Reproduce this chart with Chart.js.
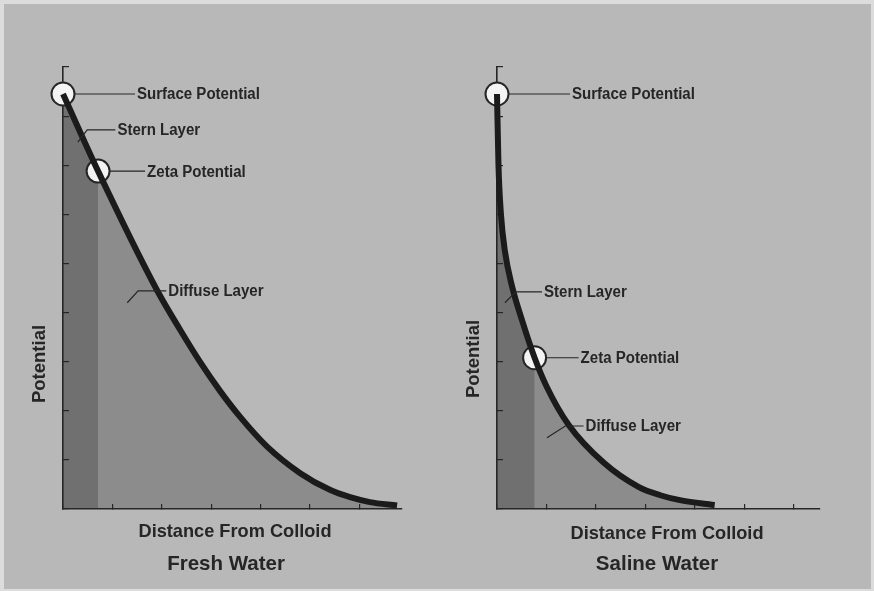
<!DOCTYPE html>
<html>
<head>
<meta charset="utf-8">
<script src="https://cdn.jsdelivr.net/npm/chart.js@4/dist/chart.umd.min.js"></script>
<style>
  html, body { margin: 0; padding: 0; width: 874px; height: 591px; overflow: hidden; background: #dcdcdc; }
  #panel { position: absolute; left: 4px; top: 4px; width: 867px; height: 585px; background: #b8b8b8; }
  .box { position: absolute; top: 0; width: 437px; height: 591px; }
</style>
</head>
<body>
<div id="panel"></div>
<div class="box" style="left:0"><canvas id="fresh"></canvas></div>
<div class="box" style="left:437px"><canvas id="saline"></canvas></div>
<script>
// Potential profile away from a colloid surface (arbitrary units on both axes)
const freshDistance  = [0, 0.71, 1.90, 2.37, 2.77, 3.18, 3.58, 4.13, 4.80, 5.40, 5.81, 6.21, 6.76];
const freshPotential = [8.45, 6.88, 4.46, 3.65, 3.00, 2.40, 1.88, 1.27, 0.73, 0.39, 0.24, 0.14, 0.07];
const salineDistance  = [0, 0.03, 0.08, 0.16, 0.30, 0.52, 0.76, 1.00, 1.45, 2.16, 2.86, 3.30, 3.70, 4.24, 4.40];
const salinePotential = [8.45, 7.00, 6.00, 5.25, 4.55, 3.80, 3.08, 2.50, 1.71, 0.94, 0.45, 0.28, 0.18, 0.10, 0.08];

// which curve points carry the surface and zeta potential markers
const freshMarkerIndex  = [0, 1];
const salineMarkerIndex = [0, 6];

const markerNames = ['Surface Potential', 'Zeta Potential'];
const layerNames  = ['Stern Layer', 'Diffuse Layer'];
const panelTitles = ['Fresh Water', 'Saline Water'];
const xAxisTitle = 'Distance From Colloid';
const yAxisTitle = 'Potential';

const INK = '#262626';
const STERN_FILL = '#707070';
const DIFFUSE_FILL = '#8c8c8c';
const LABEL_FONT = '"Liberation Sans", Arial, sans-serif';

function points(xs, ys) { return xs.map((x, i) => ({ x: x, y: ys[i] })); }

function drawText(ctx, text, x, y, size, sx, align, rot) {
  ctx.save();
  ctx.translate(x, y);
  if (rot) ctx.rotate(rot);
  ctx.scale(sx, 1);
  ctx.font = 'bold ' + size + 'px ' + LABEL_FONT;
  ctx.fillStyle = INK;
  ctx.textAlign = align;
  ctx.textBaseline = 'middle';
  ctx.fillText(text, 0, 0);
  ctx.restore();
}

// Leader lines, callout text and panel titles
const calloutPlugin = {
  id: 'callouts',
  afterDraw(chart, args, opts) {
    const ctx = chart.ctx;
    const xs = chart.scales.x, ys = chart.scales.y;
    const area = chart.chartArea;
    const px = p => [xs.getPixelForValue(p[0]), ys.getPixelForValue(p[1])];
    ctx.save();
    ctx.strokeStyle = INK;
    ctx.lineWidth = 1.2;

    // marker callouts: horizontal leader from the circle edge to the text
    const marks = chart.data.datasets.find(d => d.role === 'markers').data;
    opts.markerText.forEach((m, i) => {
      const a = px([marks[i].x, marks[i].y]);
      ctx.beginPath();
      ctx.moveTo(a[0] + 12, a[1]);
      ctx.lineTo(a[0] + m.dx - 2, a[1]);
      ctx.stroke();
      drawText(ctx, markerNames[i], a[0] + m.dx, a[1] + 1, 16, 0.94, 'left');
    });

    // region callouts: bent leader ending at the text
    opts.layerText.forEach((l, i) => {
      const pts = l.path.map(px);
      ctx.beginPath();
      pts.forEach((p, k) => k ? ctx.lineTo(p[0], p[1]) : ctx.moveTo(p[0], p[1]));
      ctx.stroke();
      const end = pts[pts.length - 1];
      drawText(ctx, layerNames[i], end[0] + 2, end[1] + 1, 16, 0.94, 'left');
    });

    // axis and panel titles
    drawText(ctx, yAxisTitle, area.left + opts.yTitle[0], area.bottom + opts.yTitle[1], 18.5, 1, 'center', -Math.PI / 2);
    drawText(ctx, xAxisTitle, area.left + opts.xTitle[0], area.bottom + opts.xTitle[1], 18.2, 1, 'center');
    drawText(ctx, opts.title, area.left + opts.panelTitle[0], area.bottom + opts.panelTitle[1], 20.5, 1, 'center');
    ctx.restore();
  }
};

function makeChart(id, xs, ys, markerIndex, xMax, padding, labels) {
  const curve = points(xs, ys);
  const zetaX = xs[markerIndex[1]];
  const stern = curve.filter(p => p.x <= zetaX);
  const markers = markerIndex.map(i => curve[i]);

  const areaStyle = (color) => ({
    backgroundColor: color, borderWidth: 0, borderColor: 'rgba(0,0,0,0)',
    fill: 'origin', pointRadius: 0, cubicInterpolationMode: 'monotone', clip: false
  });

  return new Chart(document.getElementById(id), {
    type: 'line',
    data: {
      datasets: [
        Object.assign({ label: 'Potential', data: curve, order: 0 }, {
          borderColor: '#1b1b1b', borderWidth: 6, fill: false, pointRadius: 0,
          cubicInterpolationMode: 'monotone', borderCapStyle: 'butt', clip: false
        }),
        { role: 'markers', label: 'Markers', data: markers, order: 1, showLine: false,
          pointRadius: 11.5, pointBackgroundColor: '#f4f4f4', pointBorderColor: INK,
          pointBorderWidth: 2, clip: false },
        // Stern layer sits on top of the diffuse area, up to the zeta point
        Object.assign({ label: 'Stern Layer', data: stern, order: 2 }, areaStyle(STERN_FILL)),
        Object.assign({ label: 'Diffuse Layer', data: curve, order: 3 }, areaStyle(DIFFUSE_FILL))
      ]
    },
    options: {
      responsive: true,
      maintainAspectRatio: false,
      animation: false,
      events: [],
      layout: { padding: padding },
      plugins: {
        legend: { display: false },
        tooltip: { enabled: false },
        filler: { drawTime: 'beforeDraw' },
        callouts: labels
      },
      scales: {
        x: {
          type: 'linear', min: 0, max: xMax,
          ticks: { display: false, stepSize: 1, includeBounds: false },
          grid: { drawOnChartArea: false, drawTicks: true, tickLength: -5, color: INK, lineWidth: 1.2 },
          border: { display: true, color: INK, width: 1.6 },
          afterFit: s => { s.height = 0; }
        },
        y: {
          type: 'linear', min: 0, max: 9,
          ticks: { display: false, stepSize: 1, includeBounds: false },
          grid: { drawOnChartArea: false, drawTicks: true, tickLength: -6, color: INK, lineWidth: 1.2 },
          border: { display: true, color: INK, width: 1.6 },
          afterFit: s => { s.width = 0; }
        }
      }
    },
    plugins: [calloutPlugin]
  });
}

makeChart('fresh', freshDistance, freshPotential, freshMarkerIndex, 6.86,
  { left: 63, top: 67, right: 35, bottom: 82 },
  {
    title: panelTitles[0],
    markerText: [{ dx: 74 }, { dx: 49 }],
    layerText: [
      { path: [[0.30, 7.47], [0.49, 7.72], [1.06, 7.72]] },
      { path: [[1.30, 4.20], [1.52, 4.44], [2.09, 4.44]] }
    ],
    yTitle: [-23, -145],
    xTitle: [172, 23],
    panelTitle: [163, 55]
  });

makeChart('saline', salineDistance, salinePotential, salineMarkerIndex, 6.53,
  { left: 60, top: 67, right: 54, bottom: 82 },
  {
    title: panelTitles[1],
    markerText: [{ dx: 75 }, { dx: 46 }],
    layerText: [
      { path: [[0.16, 4.20], [0.38, 4.42], [0.91, 4.42]] },
      { path: [[1.01, 1.45], [1.38, 1.69], [1.75, 1.69]] }
    ],
    yTitle: [-23, -150],
    xTitle: [170, 25],
    panelTitle: [160, 55]
  });
</script>
</body>
</html>
